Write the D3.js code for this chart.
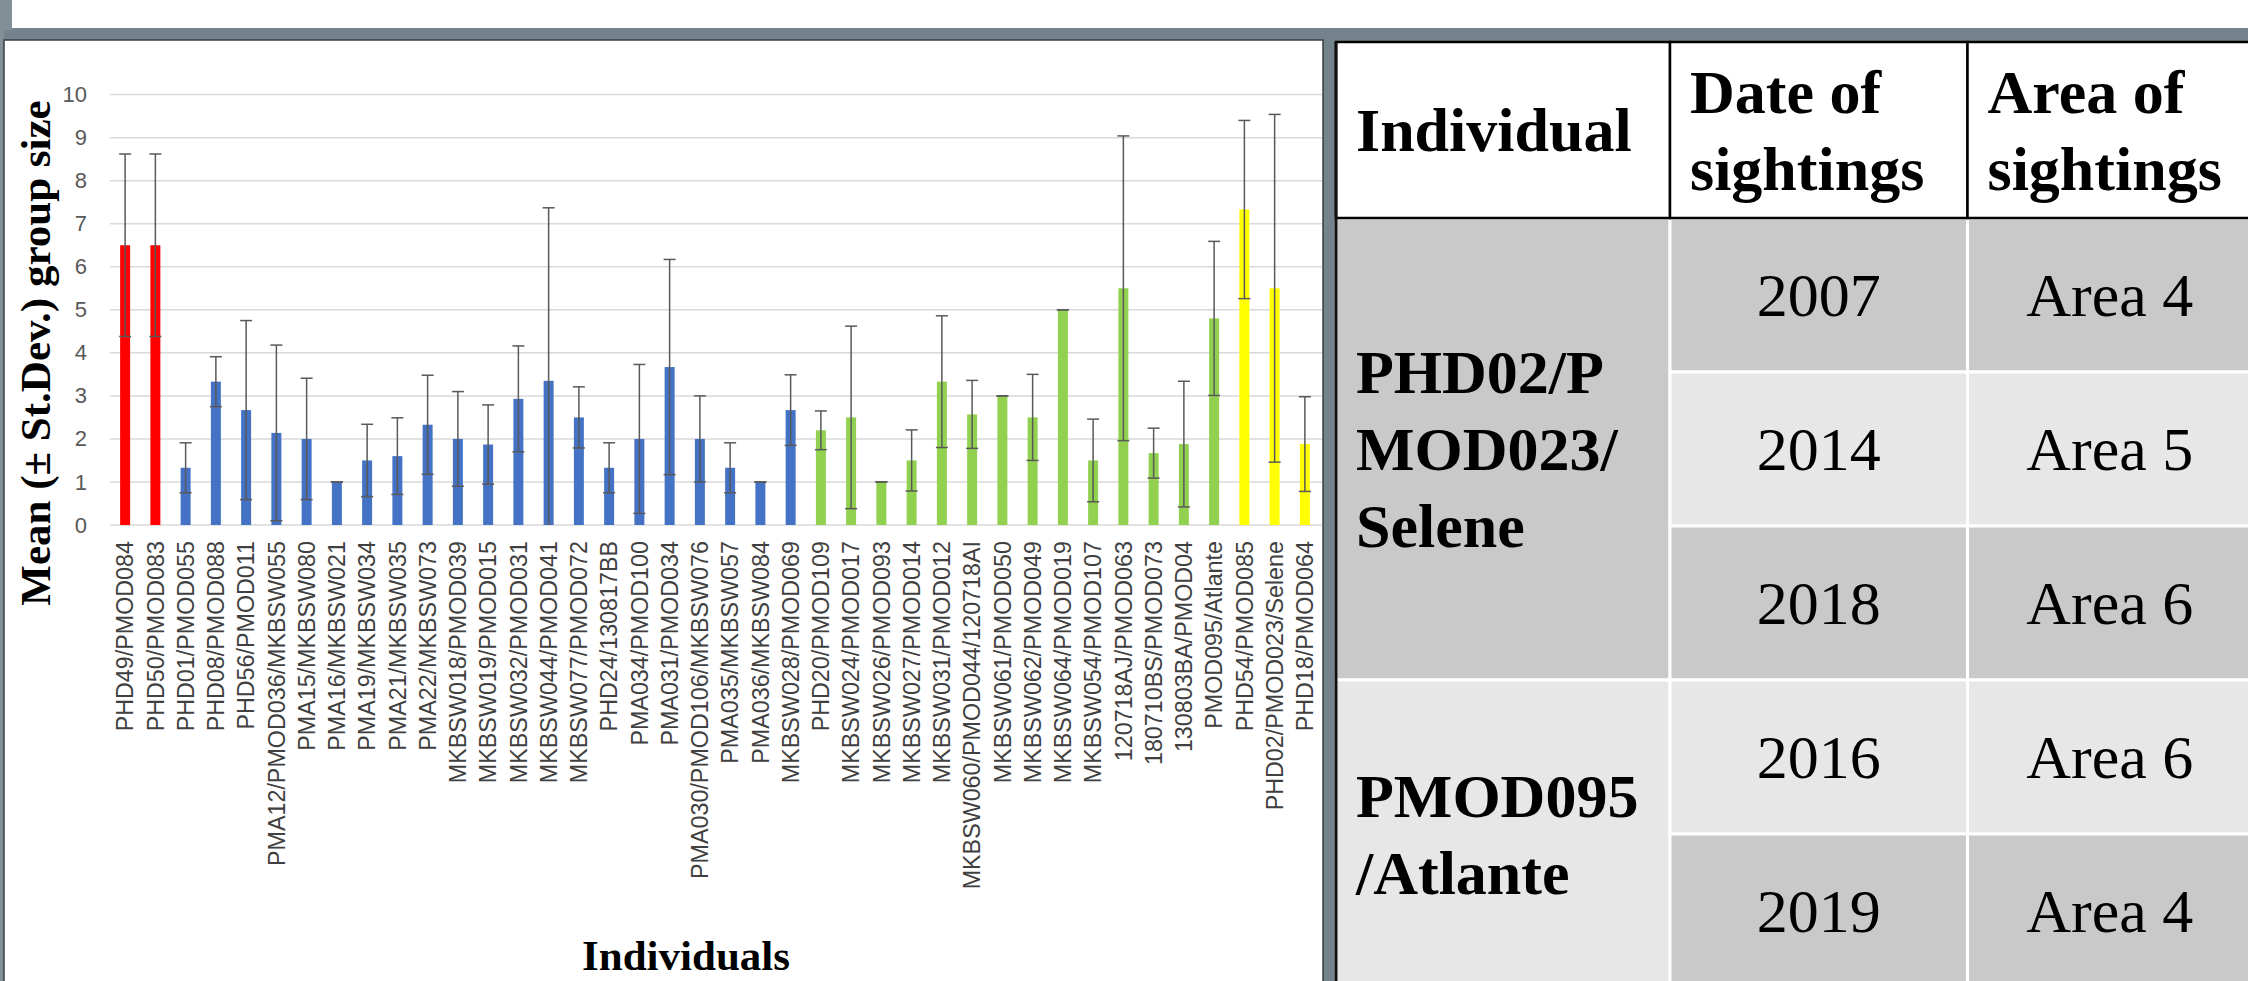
<!DOCTYPE html>
<html>
<head>
<meta charset="utf-8">
<script src="https://cdn.jsdelivr.net/npm/d3@7"></script>
<style>
    body { margin: 0; background: #fff; overflow: hidden; }
    svg { display: block; }
</style>
</head>
<body>
<div id="chart"></div>
<script>
// ---- data ----
const individuals = [
    "PHD49/PMOD084", "PHD50/PMOD083", "PHD01/PMOD055", "PHD08/PMOD088", "PHD56/PMOD011",
    "PMA12/PMOD036/MKBSW055", "PMA15/MKBSW080", "PMA16/MKBSW021", "PMA19/MKBSW034", "PMA21/MKBSW035",
    "PMA22/MKBSW073", "MKBSW018/PMOD039", "MKBSW019/PMOD015", "MKBSW032/PMOD031", "MKBSW044/PMOD041",
    "MKBSW077/PMOD072", "PHD24/130817BB", "PMA034/PMOD100", "PMA031/PMOD034", "PMA030/PMOD106/MKBSW076",
    "PMA035/MKBSW057", "PMA036/MKBSW084", "MKBSW028/PMOD069", "PHD20/PMOD109", "MKBSW024/PMOD017",
    "MKBSW026/PMOD093", "MKBSW027/PMOD014", "MKBSW031/PMOD012", "MKBSW060/PMOD044/120718AI", "MKBSW061/PMOD050",
    "MKBSW062/PMOD049", "MKBSW064/PMOD019", "MKBSW054/PMOD107", "120718AJ/PMOD063", "180710BS/PMOD073",
    "130803BA/PMOD04", "PMOD095/Atlante", "PHD54/PMOD085", "PHD02/PMOD023/Selene", "PHD18/PMOD064"
];

const means = [
    6.5, 6.5, 1.33, 3.33, 2.67, 2.14, 2.0, 1.0, 1.5, 1.6,
    2.33, 2.0, 1.87, 2.93, 3.35, 2.5, 1.33, 2.0, 3.67, 2.0,
    1.33, 1.0, 2.67, 2.2, 2.5, 1.0, 1.5, 3.33, 2.57, 3.0,
    2.5, 5.0, 1.5, 5.5, 1.67, 1.88, 4.8, 7.33, 5.5, 1.88
];

const stDevs = [
    2.12, 2.12, 0.58, 0.58, 2.08, 2.04, 1.41, 0, 0.84, 0.89,
    1.15, 1.1, 0.92, 1.23, 4.02, 0.71, 0.58, 1.73, 2.5, 1.0,
    0.58, 0, 0.82, 0.45, 2.12, 0, 0.71, 1.53, 0.79, 0,
    1.0, 0, 0.96, 3.54, 0.58, 1.46, 1.79, 2.07, 4.04, 1.1
];

const groups = [
    "red", "red", "blue", "blue", "blue", "blue", "blue", "blue", "blue", "blue",
    "blue", "blue", "blue", "blue", "blue", "blue", "blue", "blue", "blue", "blue",
    "blue", "blue", "blue", "green", "green", "green", "green", "green", "green", "green",
    "green", "green", "green", "green", "green", "green", "green", "yellow", "yellow", "yellow"
];

const yTicks = [0, 1, 2, 3, 4, 5, 6, 7, 8, 9, 10];

const tableHeader = [["Individual"], ["Date of", "sightings"], ["Area of", "sightings"]];
const tableIndividuals = [["PHD02/P", "MOD023/", "Selene"], ["PMOD095", "/Atlante"]];
const tableSpans = [3, 2];
const sightingYears = ["2007", "2014", "2018", "2016", "2019"];
const sightingAreas = ["Area 4", "Area 5", "Area 6", "Area 6", "Area 4"];

// ---- layout ----
const W = 2248, H = 981;
const plot = { left: 110, right: 1320, top: 94.6, bottom: 525 };

const data = individuals.map((d, i) => ({ name: d, mean: means[i], sd: stDevs[i], group: groups[i] }));

const svg = d3.select("#chart").append("svg")
    .attr("width", W)
    .attr("height", H);

// frame bits around the slide
svg.append("rect").attr("x", 0).attr("y", 0).attr("width", W).attr("height", H).attr("fill", "#fff");
svg.append("rect").attr("x", 0).attr("y", 28).attr("width", W).attr("height", 13).attr("fill", "#74838c");
svg.append("rect").attr("x", 0).attr("y", 0).attr("width", 12).attr("height", 30).attr("fill", "#838f96");
svg.append("rect").attr("x", 0).attr("y", 28).attr("width", 4).attr("height", H).attr("fill", "#838f96");
svg.append("rect").attr("x", 1323).attr("y", 28).attr("width", 14).attr("height", H).attr("fill", "#74838c");

// chart panel
svg.append("rect")
    .attr("x", 4).attr("y", 40)
    .attr("width", 1319).attr("height", H)
    .attr("fill", "#fff")
    .attr("stroke", "#3a3f42")
    .attr("stroke-width", 1.5);

const color = d3.scaleOrdinal()
    .domain(["red", "blue", "green", "yellow"])
    .range(["#ff0000", "#4472c4", "#92d050", "#ffff00"]);

const xScale = d3.scaleBand()
    .domain(individuals)
    .range([plot.left, plot.right])
    .paddingInner(0.67)
    .paddingOuter(0.335);

const yScale = d3.scaleLinear()
    .domain([0, 10])
    .range([plot.bottom, plot.top]);

const chart = svg.append("g");

// gridlines
chart.selectAll(".grid")
    .data(yTicks)
    .join("line")
    .attr("class", "grid")
    .attr("x1", plot.left)
    .attr("x2", plot.right + 2)
    .attr("y1", d => yScale(d))
    .attr("y2", d => yScale(d))
    .attr("stroke", "#d9d9d9")
    .attr("stroke-width", 1.5);

// y axis
const yAxis = d3.axisLeft(yScale).tickValues(yTicks).tickSize(0).tickPadding(23);
const yAxisGroup = chart.append("g")
    .attr("transform", `translate(${plot.left},0)`)
    .call(yAxis);
yAxisGroup.select(".domain").remove();
yAxisGroup.selectAll("text")
    .attr("fill", "#595959")
    .style("font-family", "'Liberation Sans', Arial, sans-serif")
    .style("font-size", "22px");

// x axis
const xAxis = d3.axisBottom(xScale).tickSize(0);
const xAxisGroup = chart.append("g")
    .attr("transform", `translate(0,${plot.bottom})`)
    .call(xAxis);
xAxisGroup.select(".domain").remove();
xAxisGroup.selectAll("text")
    .attr("x", -16)
    .attr("y", 0)
    .attr("dy", "0.35em")
    .attr("transform", "rotate(-90)")
    .style("text-anchor", "end")
    .attr("fill", "#404040")
    .style("font-family", "'Liberation Sans', Arial, sans-serif")
    .style("font-size", "23.3px");

// bars
chart.selectAll(".bar")
    .data(data)
    .join("rect")
    .attr("class", "bar")
    .attr("x", d => xScale(d.name))
    .attr("width", xScale.bandwidth())
    .attr("y", d => yScale(d.mean))
    .attr("height", d => yScale(0) - yScale(d.mean))
    .attr("fill", d => color(d.group));

// error bars
const capW = 12;
const err = chart.selectAll(".err")
    .data(data)
    .join("g")
    .attr("class", "err")
    .attr("stroke", "#595959")
    .attr("stroke-width", 1.5);

err.append("line")
    .attr("x1", d => xScale(d.name) + xScale.bandwidth() / 2)
    .attr("x2", d => xScale(d.name) + xScale.bandwidth() / 2)
    .attr("y1", d => yScale(Math.max(0, d.mean - d.sd)))
    .attr("y2", d => yScale(d.mean + d.sd));

err.append("line")
    .attr("x1", d => xScale(d.name) + xScale.bandwidth() / 2 - capW / 2)
    .attr("x2", d => xScale(d.name) + xScale.bandwidth() / 2 + capW / 2)
    .attr("y1", d => yScale(d.mean + d.sd))
    .attr("y2", d => yScale(d.mean + d.sd));

err.filter(d => d.mean - d.sd >= 0)
    .append("line")
    .attr("x1", d => xScale(d.name) + xScale.bandwidth() / 2 - capW / 2)
    .attr("x2", d => xScale(d.name) + xScale.bandwidth() / 2 + capW / 2)
    .attr("y1", d => yScale(d.mean - d.sd))
    .attr("y2", d => yScale(d.mean - d.sd));

// axis titles
chart.append("text")
    .attr("transform", "translate(50,353) rotate(-90)")
    .attr("text-anchor", "middle")
    .style("font-family", "'Liberation Serif', 'Times New Roman', serif")
    .style("font-weight", "bold")
    .style("font-size", "43px")
    .text("Mean (± St.Dev.) group size");

chart.append("text")
    .attr("x", 686)
    .attr("y", 970)
    .attr("text-anchor", "middle")
    .style("font-family", "'Liberation Serif', 'Times New Roman', serif")
    .style("font-weight", "bold")
    .style("font-size", "43px")
    .text("Individuals");

// ---- table ----
const colX = [1336, 1670, 1967.5, 2252];
const headTop = 42, headBottom = 218, rowH = 154;
const fontT = "'Liberation Serif', 'Times New Roman', serif";
const table = svg.append("g");

// body cells
const bodyCells = [];
let r0 = 0;
tableIndividuals.forEach((lines, i) => {
    bodyCells.push({ col: 0, row: r0, span: tableSpans[i], lines: lines, bold: true, shade: i % 2 === 0 ? "dark" : "light" });
    r0 += tableSpans[i];
});
sightingYears.forEach((d, i) => {
    const shade = i % 2 === 0 ? "dark" : "light";
    bodyCells.push({ col: 1, row: i, span: 1, lines: [d], bold: false, shade });
    bodyCells.push({ col: 2, row: i, span: 1, lines: [sightingAreas[i]], bold: false, shade });
});

const shade = { dark: "#c9c9c9", light: "#e7e7e7" };

table.selectAll(".cell")
    .data(bodyCells)
    .join("rect")
    .attr("class", "cell")
    .attr("x", d => colX[d.col])
    .attr("y", d => headBottom + d.row * rowH)
    .attr("width", d => colX[d.col + 1] - colX[d.col])
    .attr("height", d => d.span * rowH)
    .attr("fill", d => shade[d.shade])
    .attr("stroke", "#fff")
    .attr("stroke-width", 3);

const lineH = 77;
table.selectAll(".cellText")
    .data(bodyCells)
    .join("text")
    .attr("class", "cellText")
    .attr("text-anchor", d => d.col === 0 ? "start" : "middle")
    .style("font-family", fontT)
    .style("font-weight", d => d.bold ? "bold" : "normal")
    .style("font-size", "62px")
    .attr("fill", "#000")
    .each(function (d) {
        const cx = d.col === 0 ? colX[0] + 20 : (colX[d.col] + colX[d.col + 1]) / 2;
        const cy = headBottom + (d.row + d.span / 2) * rowH;
        const n = d.lines.length;
        d3.select(this).selectAll("tspan")
            .data(d.lines)
            .join("tspan")
            .attr("x", cx)
            .attr("y", (t, j) => cy + (j - (n - 1) / 2) * lineH + 21)
            .text(t => t);
    });

// header
table.selectAll(".head")
    .data(tableHeader)
    .join("rect")
    .attr("class", "head")
    .attr("x", (d, i) => colX[i])
    .attr("y", headTop)
    .attr("width", (d, i) => colX[i + 1] - colX[i])
    .attr("height", headBottom - headTop)
    .attr("fill", "#fff")
    .attr("stroke", "#000")
    .attr("stroke-width", 2.5);

table.selectAll(".headText")
    .data(tableHeader)
    .join("text")
    .attr("class", "headText")
    .style("font-family", fontT)
    .style("font-weight", "bold")
    .style("font-size", "62px")
    .each(function (d, i) {
        const n = d.length;
        const cy = (headTop + headBottom) / 2;
        d3.select(this).selectAll("tspan")
            .data(d)
            .join("tspan")
            .attr("x", colX[i] + 20)
            .attr("y", (t, j) => cy + (j - (n - 1) / 2) * lineH + 21)
            .text(t => t);
    });

// table left edge
table.append("line")
    .attr("x1", colX[0]).attr("x2", colX[0])
    .attr("y1", headTop).attr("y2", H)
    .attr("stroke", "#111")
    .attr("stroke-width", 3);
</script>
</body>
</html>
